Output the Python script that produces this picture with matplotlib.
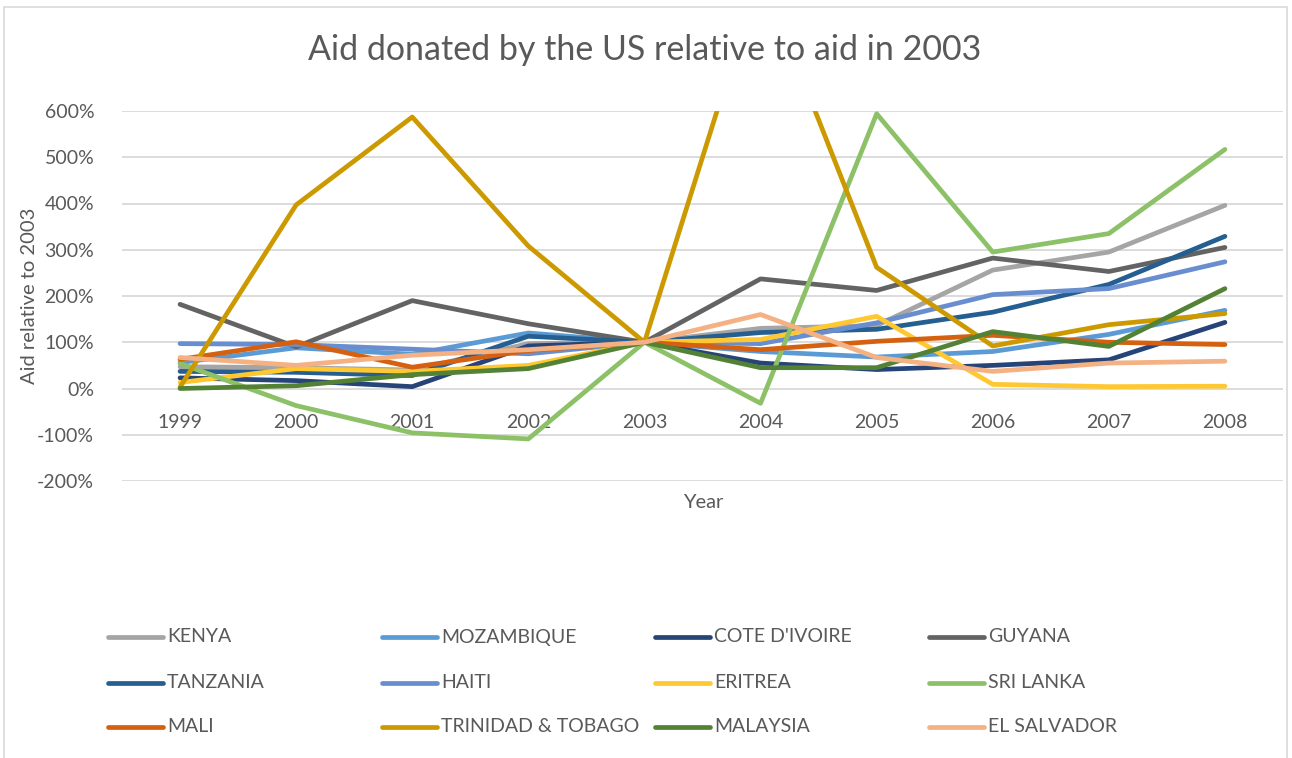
import matplotlib
matplotlib.use("Agg")
import matplotlib.pyplot as plt
from matplotlib.patches import Rectangle
from matplotlib.lines import Line2D

years = ["1999", "2000", "2001", "2002", "2003", "2004", "2005", "2006", "2007", "2008"]

countries = ["KENYA", "MOZAMBIQUE", "COTE D'IVOIRE", "GUYANA",
             "TANZANIA", "HAITI", "ERITREA", "SRI LANKA",
             "MALI", "TRINIDAD & TOBAGO", "MALAYSIA", "EL SALVADOR"]

# aid relative to 2003, in percent
kenya = [47, 45, 40, 97, 100, 130, 136, 256, 295, 396]
mozambique = [56, 88, 74, 120, 100, 80, 68, 80, 117, 169]
cote_divoire = [23, 17, 4, 92, 100, 55, 41, 50, 62, 143]
guyana = [182, 90, 190, 140, 100, 237, 212, 282, 253, 305]
tanzania = [37, 35, 28, 113, 100, 121, 128, 165, 225, 329]
haiti = [97, 95, 85, 75, 100, 97, 142, 203, 216, 274]
eritrea = [13, 43, 37, 50, 100, 106, 156, 9, 4, 5]
sri_lanka = [54, -37, -96, -109, 100, -32, 594, 295, 335, 517]
mali = [63, 101, 46, 82, 100, 84, 102, 115, 100, 95]
trinidad = [3, 397, 587, 308, 100, 900, 262, 92, 138, 162]
malaysia = [0, 6, 30, 43, 100, 45, 45, 123, 91, 216]
el_salvador = [67, 50, 72, 84, 100, 160, 67, 37, 55, 59]

series = [kenya, mozambique, cote_divoire, guyana, tanzania, haiti,
          eritrea, sri_lanka, mali, trinidad, malaysia, el_salvador]

colors = ["#A5A5A5", "#5B9BD5", "#264478", "#636363",
          "#255E91", "#698ED0", "#FFC830", "#8CC168",
          "#D5600F", "#CC9A00", "#548235", "#F4B183"]

txt = "#595959"
plt.rcParams["font.family"] = ["Lato", "DejaVu Sans"]

fig = plt.figure(figsize=(12.92, 7.58), dpi=100)
W, H = 1292, 758
ax = fig.add_axes([122 / W, 1 - 481 / H, (1283 - 122) / W, (481 - 111) / H])

x = list(range(len(years)))
for vals, c in zip(series, colors):
    ax.plot(x, vals, color=c, lw=3.4, solid_capstyle="round", solid_joinstyle="round")

ax.set_xlim(-0.5, len(years) - 0.5)
ax.set_ylim(-200, 600)
ax.set_yticks(range(-200, 601, 100))
ax.set_yticklabels([f"{v}%" for v in range(-200, 601, 100)])
ax.set_xticks(x)
ax.set_xticklabels(years)
ax.grid(axis="y", color="#D9D9D9", lw=1.3)
ax.set_axisbelow(True)
for s in ["top", "right", "left"]:
    ax.spines[s].set_visible(False)
ax.spines["bottom"].set_position(("data", 0))
ax.spines["bottom"].set_visible(False)
ax.tick_params(axis="both", length=0, labelsize=14, labelcolor=txt)
ax.tick_params(axis="y", pad=20)
ax.tick_params(axis="x", pad=18)

fig.text(645 / W, 1 - 50 / H, "Aid donated by the US relative to aid in 2003",
         ha="center", va="center", fontsize=24.5, color=txt)
fig.text(30 / W, 1 - 296 / H, "Aid relative to 2003", rotation=90,
         ha="center", va="center", fontsize=14.5, color=txt)
fig.text(703 / W, 1 - 503 / H, "Year", ha="center", va="center", fontsize=14.5, color=txt)

# legend, 4 columns laid out like excel
col_x = [108, 382, 655, 929]
row_y = [637, 683, 727]
for i, (name, c) in enumerate(zip(countries, colors)):
    cx = col_x[i % 4]
    cy = row_y[i // 4]
    fig.add_artist(Line2D([cx / W, (cx + 55) / W], [1 - cy / H, 1 - cy / H],
                          color=c, lw=3.4, solid_capstyle="round",
                          transform=fig.transFigure))
    fig.text((cx + 59) / W, 1 - cy / H, name, ha="left", va="center",
             fontsize=14, color=txt)

fig.add_artist(Rectangle((4 / W, -0.02), (1287 - 4) / W, 1.02 - 7 / H,
                         transform=fig.transFigure, fill=False,
                         edgecolor="#D9D9D9", lw=1.2))

fig.savefig("out.png", dpi=100)
